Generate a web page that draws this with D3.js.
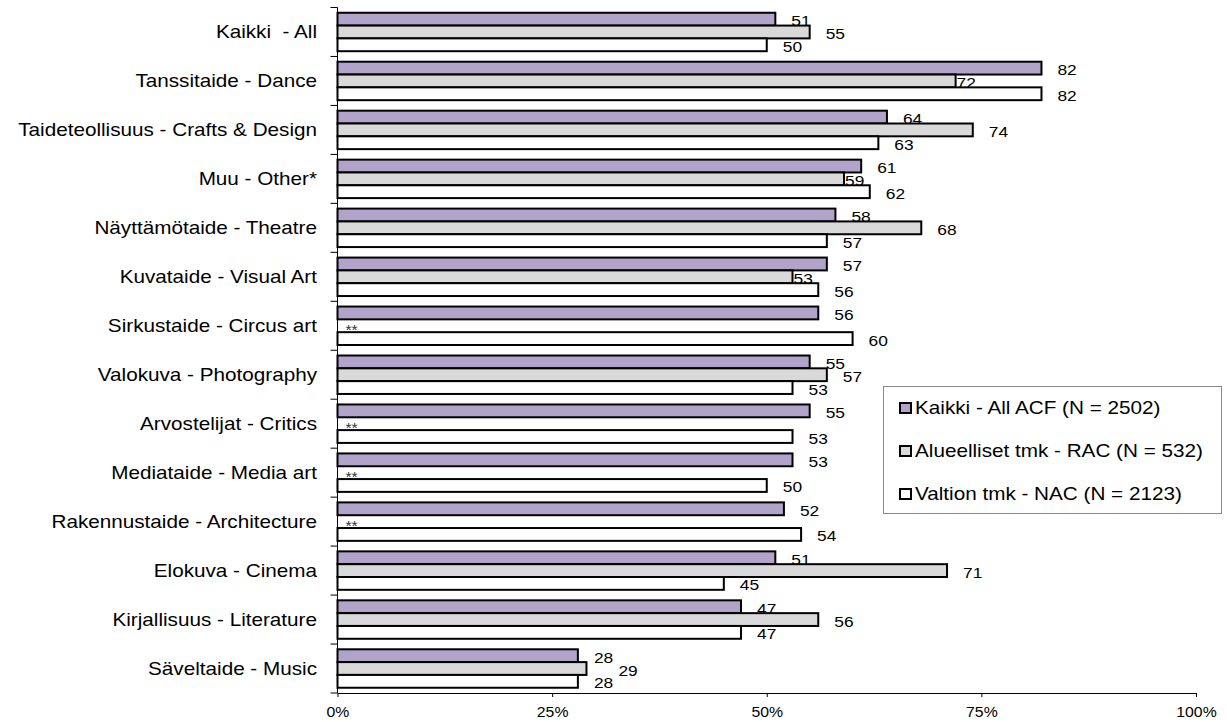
<!DOCTYPE html>
<html>
<head>
<meta charset="utf-8">
<script src="https://cdn.jsdelivr.net/npm/d3@7/dist/d3.min.js"></script>
<style>
  html, body { margin: 0; padding: 0; background: #fff; }
  svg { display: block; font-family: "Liberation Sans", Arial, sans-serif; }
</style>
</head>
<body>
<svg id="chart" width="1227" height="722"></svg>
<script>
const categories = [
  "Kaikki  - All",
  "Tanssitaide - Dance",
  "Taideteollisuus - Crafts & Design",
  "Muu - Other*",
  "Näyttämötaide - Theatre",
  "Kuvataide - Visual Art",
  "Sirkustaide - Circus art",
  "Valokuva - Photography",
  "Arvostelijat - Critics",
  "Mediataide - Media art",
  "Rakennustaide - Architecture",
  "Elokuva - Cinema",
  "Kirjallisuus - Literature",
  "Säveltaide - Music"
];
const seriesNames = [
  "Kaikki - All ACF (N = 2502)",
  "Alueelliset tmk - RAC (N = 532)",
  "Valtion tmk - NAC (N = 2123)"
];
const allACF = [51, 82, 64, 61, 58, 57, 56, 55, 55, 53, 52, 51, 47, 28];
const racValues = [55, 72, 74, 59, 68, 53, null, 57, null, null, null, 71, 56, 29];
const nacValues = [50, 82, 63, 62, 57, 56, 60, 53, 53, 50, 54, 45, 47, 28];
const xTickValues = [0, 25, 50, 75, 100];
const missingMark = "**";

const seriesValues = [allACF, racValues, nacValues];
const colors = ["#b1a3c9", "#d9d9d9", "#ffffff"];

const svg = d3.select("#chart");
const x = d3.scaleLinear().domain([0, 100]).range([337.5, 1196]);
const y0 = d3.scaleBand().domain(categories).range([7.5, 693]).padding(0);
const y1 = d3.scaleBand().domain([0, 1, 2]).range([0, y0.bandwidth()]).paddingInner(0).paddingOuter(0.41);

const rows = categories.map((c, i) => ({ cat: c, vals: seriesValues.map(s => s[i]) }));

// horizontal gap between a bar end and its label, following the reference's label placement
function labelGap(vals, k) {
  const v = vals[k];
  if (k === 1) {
    const a = vals[0], c = vals[2];
    if (Math.abs(v - a) <= 1 && Math.abs(v - c) <= 1) return 32;  // crowded: pushed right
    if (c !== null && c > v) return 1;                               // tucked against a longer bar
  }
  return 16;
}

// bars
const g = svg.append("g");
const rowG = g.selectAll("g.row").data(rows).join("g")
  .attr("class", "row")
  .attr("transform", d => `translate(0,${y0(d.cat)})`);

rowG.selectAll("rect").data(d => d.vals.map((v, k) => ({ v, k })).filter(e => e.v !== null))
  .join("rect")
  .attr("x", x(0))
  .attr("y", e => y1(e.k))
  .attr("width", e => x(e.v) - x(0))
  .attr("height", y1.bandwidth())
  .attr("fill", e => colors[e.k])
  .attr("stroke", "#000")
  .attr("stroke-width", 2);

// value labels
rowG.selectAll("g.lbl").data(d => d.vals.map((v, k) => ({ v, k, vals: d.vals })))
  .join("g")
  .attr("class", "lbl")
  .attr("transform", e => e.v === null
      ? `translate(${x(0) + 8},${y1(e.k) + y1.bandwidth() / 2 + 9}) scale(1.12,1)`
      : `translate(${x(e.v) + labelGap(e.vals, e.k)},${y1(e.k) + y1.bandwidth() / 2 + 7}) scale(1.12,1)`)
  .append("text")
  .attr("font-size", e => e.v === null ? 14 : 15.5)
  .attr("fill", e => e.v === null ? "#333" : "#000")
  .text(e => e.v === null ? missingMark : e.v);

// y axis
const yAxisG = svg.append("g");
yAxisG.append("line")
  .attr("x1", x(0)).attr("x2", x(0))
  .attr("y1", y0.range()[0]).attr("y2", y0.range()[1])
  .attr("stroke", "#000").attr("stroke-width", 1);
const boundaries = categories.map(c => y0(c)).concat([y0.range()[1]]);
yAxisG.selectAll("line.tick").data(boundaries).join("line")
  .attr("class", "tick")
  .attr("x1", x(0) - 7).attr("x2", x(0))
  .attr("y1", d => d).attr("y2", d => d)
  .attr("stroke", "#000").attr("stroke-width", 1);

yAxisG.selectAll("g.cat").data(categories).join("g")
  .attr("class", "cat")
  .attr("transform", d => `translate(317,${y0(d) + y0.bandwidth() / 2 + 6.5}) scale(1.15,1)`)
  .append("text")
  .attr("text-anchor", "end")
  .attr("font-size", 18)
  .attr("fill", "#000")
  .style("white-space", "pre")
  .text(d => d);

// x axis
const xAxis = d3.axisBottom(x).tickValues(xTickValues).tickFormat(d => d + "%").tickSize(4).tickSizeOuter(0);
const xAxisG = svg.append("g").attr("transform", `translate(0,${y0.range()[1]})`).call(xAxis);
xAxisG.select(".domain").attr("stroke", "#000");
xAxisG.selectAll(".tick line").attr("stroke", "#000");
xAxisG.selectAll(".tick text")
  .attr("font-family", "Liberation Sans, Arial, sans-serif")
  .attr("font-size", 14)
  .attr("fill", "#000")
  .attr("y", 0).attr("dy", 0)
  .attr("transform", "translate(0,24) scale(1.13,1)");

// legend
const lg = svg.append("g");
lg.append("rect")
  .attr("x", 883.5).attr("y", 386.5).attr("width", 338).attr("height", 127)
  .attr("fill", "#fff").attr("stroke", "#888").attr("stroke-width", 1);
const ly = d3.scalePoint().domain(seriesNames).range([414, 500]);
const items = lg.selectAll("g.item").data(seriesNames).join("g")
  .attr("class", "item");
items.append("rect")
  .attr("x", 900).attr("y", d => ly(d) - 11)
  .attr("width", 11).attr("height", 10)
  .attr("fill", (d, i) => colors[i])
  .attr("stroke", "#000").attr("stroke-width", 2);
items.append("g")
  .attr("transform", d => `translate(915,${ly(d)}) scale(1.15,1)`)
  .append("text")
  .attr("font-size", 18)
  .attr("fill", "#000")
  .text(d => d);
</script>
</body>
</html>
